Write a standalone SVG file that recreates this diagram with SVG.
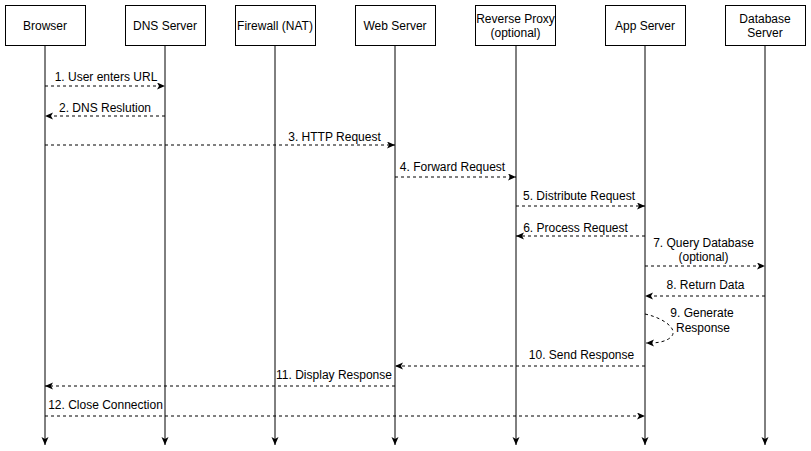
<svg xmlns="http://www.w3.org/2000/svg" width="811" height="451" viewBox="0 0 811 451">
<style>
.box{fill:#fff;stroke:#000;stroke-width:1}
.t{font-family:"Liberation Sans",Arial,sans-serif;font-size:12px;fill:#000;text-anchor:middle}
.life{stroke:#000;stroke-width:1;fill:none}
.msg{stroke:#000;stroke-width:1;fill:none;stroke-dasharray:3 3}
</style>
<defs>
<marker id="ah" markerUnits="userSpaceOnUse" markerWidth="10" markerHeight="10" refX="8" refY="3.5" orient="auto">
<path d="M0,0 L8,3.5 L0,7 L2,3.5 Z" fill="#000"/>
</marker>
</defs>
<rect width="811" height="451" fill="#fff"/>
<g id="connectors">
<line class="life" x1="45" y1="46" x2="45" y2="445" marker-end="url(#ah)"/>
<line class="life" x1="165" y1="46" x2="165" y2="445" marker-end="url(#ah)"/>
<line class="life" x1="275" y1="46" x2="275" y2="445" marker-end="url(#ah)"/>
<line class="life" x1="395" y1="46" x2="395" y2="445" marker-end="url(#ah)"/>
<line class="life" x1="516" y1="46" x2="516" y2="445" marker-end="url(#ah)"/>
<line class="life" x1="645" y1="46" x2="645" y2="445" marker-end="url(#ah)"/>
<line class="life" x1="765" y1="46" x2="765" y2="445" marker-end="url(#ah)"/>
<line class="msg" x1="45" y1="86" x2="165" y2="86" marker-end="url(#ah)"/>
<line class="msg" x1="165" y1="116" x2="45" y2="116" marker-end="url(#ah)"/>
<line class="msg" x1="45" y1="145" x2="395" y2="145" marker-end="url(#ah)"/>
<line class="msg" x1="395" y1="177" x2="516" y2="177" marker-end="url(#ah)"/>
<line class="msg" x1="516" y1="206" x2="645" y2="206" marker-end="url(#ah)"/>
<line class="msg" x1="645" y1="236" x2="516" y2="236" marker-end="url(#ah)"/>
<line class="msg" x1="645" y1="266" x2="765" y2="266" marker-end="url(#ah)"/>
<line class="msg" x1="765" y1="296" x2="645" y2="296" marker-end="url(#ah)"/>
<path class="msg" d="M645,314 C668,319 684,334 664,341 C658,343 652,343 646,343" marker-end="url(#ah)"/>
<line class="msg" x1="645" y1="366" x2="395" y2="366" marker-end="url(#ah)"/>
<line class="msg" x1="395" y1="386" x2="45" y2="386" marker-end="url(#ah)"/>
<line class="msg" x1="45" y1="416" x2="645" y2="416" marker-end="url(#ah)"/>
</g>
<g id="labels">
<text class="t" x="106" y="81">1. User enters URL</text>
<text class="t" x="105" y="111.5">2. DNS Reslution</text>
<text class="t" x="334.5" y="140.5">3. HTTP Request</text>
<text class="t" x="452.5" y="170.5">4. Forward Request</text>
<text class="t" x="579" y="200">5. Distribute Request</text>
<text class="t" x="575.5" y="231.5">6. Process Request</text>
<text class="t" x="703.5" y="246.5">7. Query Database</text>
<text class="t" x="703.5" y="261">(optional)</text>
<text class="t" x="705.5" y="288.5">8. Return Data</text>
<text class="t" x="702" y="316.5">9. Generate</text>
<text class="t" x="703" y="331.5">Response</text>
<text class="t" x="581.5" y="358.5">10. Send Response</text>
<text class="t" x="334" y="378.5">11. Display Response</text>
<text class="t" x="105.5" y="408.5">12. Close Connection</text>
</g>
<g id="browser"><rect class="box" x="5.5" y="5.5" width="80" height="40"/><text class="t" x="45" y="30">Browser</text></g>
<g id="dns"><rect class="box" x="125.5" y="5.5" width="80" height="40"/><text class="t" x="165" y="30">DNS Server</text></g>
<g id="firewall"><rect class="box" x="235.5" y="5.5" width="80" height="40"/><text class="t" x="275" y="30">Firewall (NAT)</text></g>
<g id="web"><rect class="box" x="355.5" y="5.5" width="80" height="40"/><text class="t" x="395" y="30">Web Server</text></g>
<g id="proxy"><rect class="box" x="475.5" y="5.5" width="80" height="40"/><text class="t" x="515.5" y="22.5">Reverse Proxy</text><text class="t" x="515.5" y="37">(optional)</text></g>
<g id="app"><rect class="box" x="605.5" y="5.5" width="80" height="40"/><text class="t" x="645" y="30">App Server</text></g>
<g id="db"><rect class="box" x="725.5" y="5.5" width="80" height="40"/><text class="t" x="765" y="22.5">Database</text><text class="t" x="765" y="37">Server</text></g>
</svg>
